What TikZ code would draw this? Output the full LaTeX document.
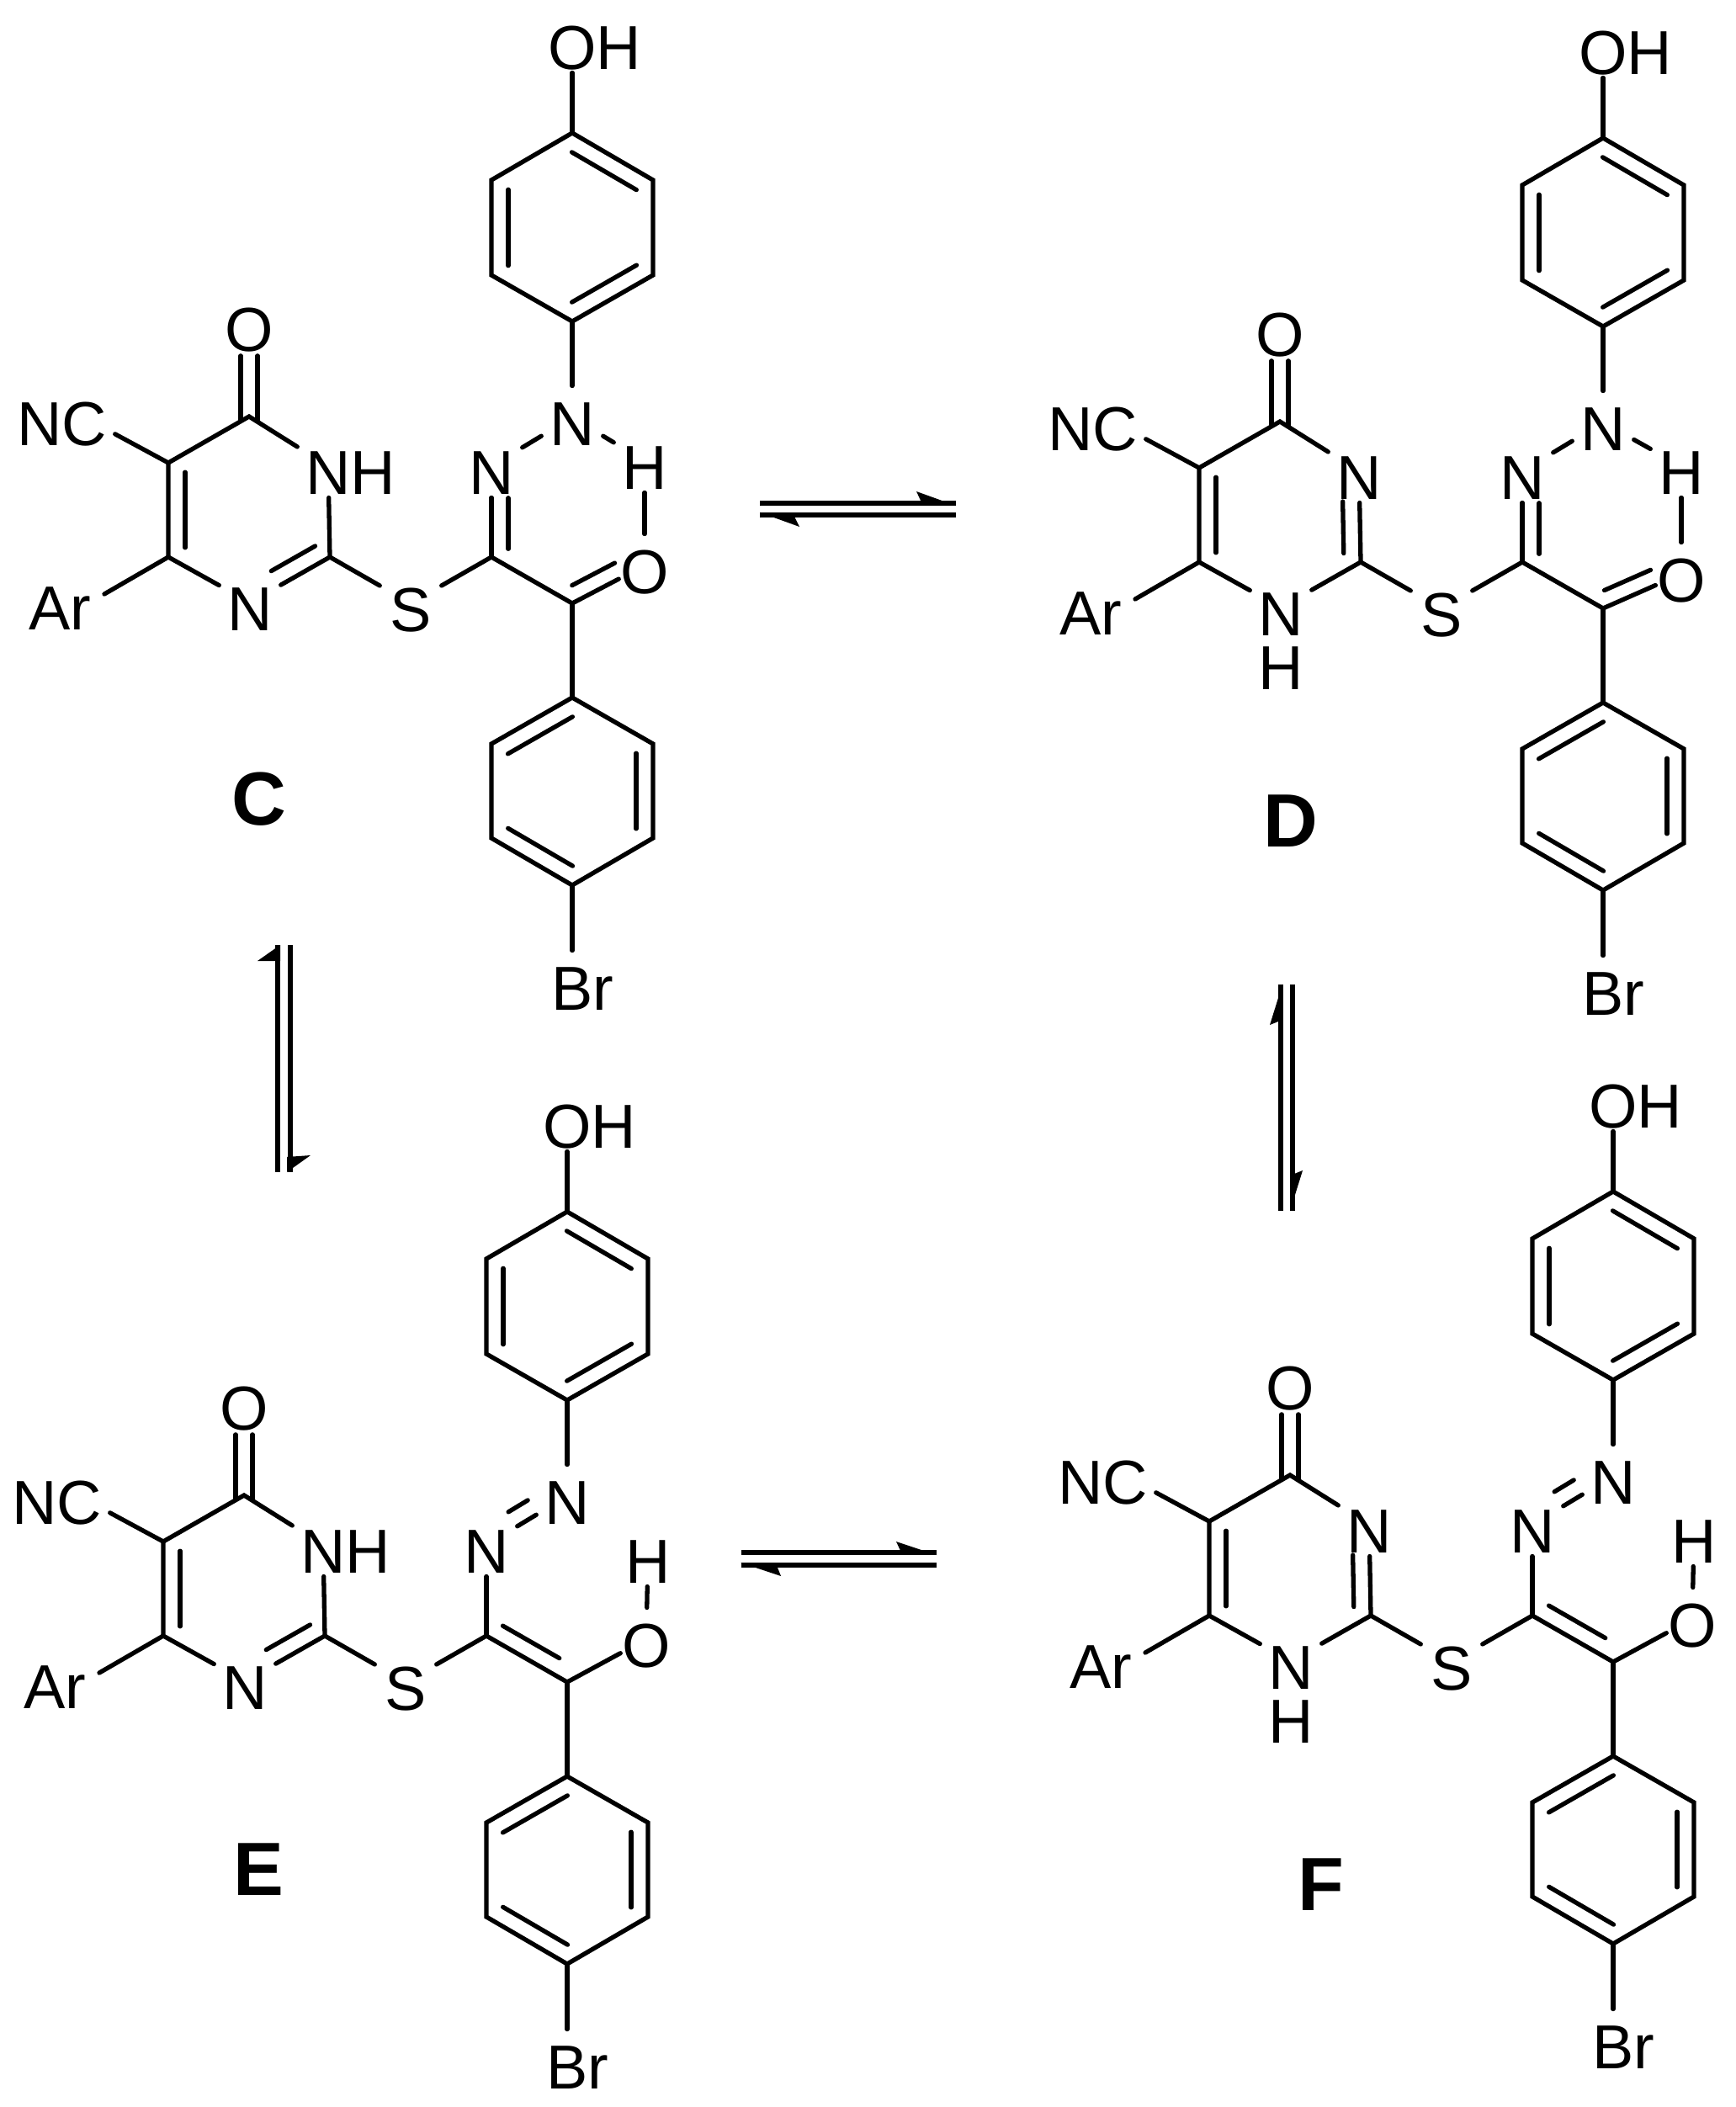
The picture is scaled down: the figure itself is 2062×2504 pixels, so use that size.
\documentclass[tikz,border=0pt]{standalone}
\usepackage{fontspec}
\setmainfont{Liberation Sans}
\usetikzlibrary{calc,positioning}

\tikzset{
  bond/.style={line width=.053cm, line cap=round},
  eqline/.style={line width=.055cm},
  atom/.style={inner sep=0pt, text height=.70cm, text depth=.035cm, minimum width=.72cm,
               font=\fontsize{21}{25}\selectfont},
  cpd/.style={inner sep=0pt, font=\fontsize{25.5}{30}\selectfont\bfseries}
}

% second line of a double bond
\newcommand{\sideline}[5]{
  \draw[bond] ($(#1)!#4!(#2)!#3!90:(#2)$) -- ($(#1)!#5!(#2)!#3!90:(#2)$);
}

\newcommand{\skeleton}[1]{
  \coordinate (t) at (0,0);
  \coordinate (c5) at (-96,55);
  \coordinate (c4) at (-96,167);
  \coordinate (c2) at (96,167);
  \coordinate (c7) at (288,167);
  \coordinate (k) at (384,222);
  \coordinate (arend) at (-172,211);
  \coordinate (p1) at (384,-113);
  \coordinate (p2) at (480,-168);
  \coordinate (p3) at (480,-281);
  \coordinate (p4) at (384,-337);
  \coordinate (p5) at (288,-281);
  \coordinate (p6) at (288,-168);
  \coordinate (q1) at (384,334);
  \coordinate (q2) at (288,389);
  \coordinate (q3) at (288,501);
  \coordinate (q4) at (384,557);
  \coordinate (q5) at (480,501);
  \coordinate (q6) at (480,389);
  \node[atom] (o4) at (0,-111) {O};
  \node[atom] (cn) at (-196,1) {\llap{N}C};
  \node[atom] (ar) at (-200,220) {\llap{A}r};
  \node[atom] (n1) at (94,59) {#1};
  \node[atom] (n3) at (1,221) {N};
  \node[atom] (s) at (192,222) {S};
  \node[atom] (n8) at (288,59) {N};
  \node[atom] (n9) at (384,1) {N};
  \node[atom] (oh) at (384,-446) {O\rlap{H}};
  \node[atom] (br) at (384,672) {B\rlap{r}};
  \draw[bond] (cn) -- (c5) -- (t) -- (n1);
  \draw[bond] (c5) -- (c4) -- (n3);
  \draw[bond] (c4) -- (arend);
  \draw[bond] (c2) -- (s) -- (c7);
  \draw[bond] (k) -- (q1);
  \draw[bond] (p1) -- (n9);
  \draw[bond] (p1) -- (p2) -- (p3) -- (p4) -- (p5) -- (p6) -- cycle;
  \draw[bond] (q1) -- (q2) -- (q3) -- (q4) -- (q5) -- (q6) -- cycle;
  \draw[bond] (p4) -- (oh);
  \draw[bond] (q4) -- (br);
  \sideline{c5}{c4}{.2cm}{.1}{.9}
  \sideline{p1}{p2}{.2cm}{.1}{.9}
  \sideline{p3}{p4}{.2cm}{.1}{.9}
  \sideline{p5}{p6}{.2cm}{.1}{.9}
  \sideline{q1}{q2}{.2cm}{.1}{.9}
  \sideline{q3}{q4}{.2cm}{.1}{.9}
  \sideline{q5}{q6}{.2cm}{.1}{.9}
  \sideline{t}{o4}{.1cm}{-.05}{.65}
  \sideline{t}{o4}{-.1cm}{-.05}{.65}
}

% NH next to the carbonyl
\newcommand{\lactam}{
  \draw[bond] (n1) -- (c2) -- (n3);
  \sideline{n3}{c2}{.2cm}{.37}{.92}
}
% NH between Ar and S
\newcommand{\lactim}{
  \draw[bond] (n1) -- (c2) -- (n3);
  \sideline{c2}{n1}{.2cm}{.1}{.67}
  \node[atom,text height=.52cm,text depth=0pt,below=.075cm of n3] (h3) {H};
}

\newcommand{\hydrazo}[2]{
  \node[atom] (h) at (#1,53) {H};
  \node[atom,minimum width=.6cm] (o) at (#1,#2) {O};
  \draw[bond] (c7) -- (n8);
  \sideline{c7}{n8}{-.2cm}{.09}{.65}
  \draw[bond] (n8) -- (n9);
  \draw[bond] (n9) -- (h);
  \draw[bond] (h) -- (o);
  \draw[bond] (c7) -- (k) -- (o);
  \sideline{k}{o}{.19cm}{.1}{.69}
}

\newcommand{\azoenol}{
  \node[atom] (h) at (480,71) {H};
  \node[atom,minimum width=.6cm] (o) at (478,171) {O};
  \draw[bond] (c7) -- (n8);
  \draw[bond] (n8) -- (n9);
  \sideline{n8}{n9}{.2cm}{.38}{.62}
  \draw[bond] (h) -- (o);
  \draw[bond] (c7) -- (k) -- (o);
  \sideline{c7}{k}{.2cm}{.1}{.8}
}

\begin{document}
\begin{tikzpicture}[x=.01cm,y=-.01cm]
  \useasboundingbox (0,0) rectangle (2062,2504);

  \begin{scope}[shift={(296,495)},name prefix=mc-]
    \skeleton{N\rlap{H}}
    \lactam
    \hydrazo{470}{177}
  \end{scope}
  \begin{scope}[shift={(1521,501)},name prefix=md-]
    \skeleton{N}
    \lactim
    \hydrazo{477}{181}
  \end{scope}
  \begin{scope}[shift={(290,1777)},name prefix=me-]
    \skeleton{N\rlap{H}}
    \lactam
    \azoenol
  \end{scope}
  \begin{scope}[shift={(1533,1753)},name prefix=mf-]
    \skeleton{N}
    \lactim
    \azoenol
  \end{scope}

  \node[cpd] (labC) at (308,950) {C};
  \node[cpd] (labD) at (1534,976) {D};
  \node[cpd] (labE) at (307,2222) {E};
  \node[cpd] (labF) at (1570,2240) {F};

  % C - D
  \coordinate (cdA) at (903,598);
  \coordinate (cdB) at (1136,598);
  \coordinate (cdC) at (903,612);
  \coordinate (cdD) at (1136,612);
  \draw[eqline] (cdA) -- (cdB);
  \draw[eqline] (cdC) -- (cdD);
  \fill (1136,601) -- (1089,584) -- (1095,597) -- cycle;
  \fill (903,609) -- (950,626) -- (944,614) -- cycle;

  % E - F
  \coordinate (efA) at (881,1845);
  \coordinate (efB) at (1113,1845);
  \coordinate (efC) at (881,1860);
  \coordinate (efD) at (1113,1860);
  \draw[eqline] (efA) -- (efB);
  \draw[eqline] (efC) -- (efD);
  \fill (1113,1848) -- (1065,1832) -- (1071,1845) -- cycle;
  \fill (880,1857) -- (928,1873) -- (922,1858) -- cycle;

  % C - E
  \coordinate (ceA) at (330,1123);
  \coordinate (ceB) at (330,1393);
  \coordinate (ceC) at (345,1123);
  \coordinate (ceD) at (345,1393);
  \draw[eqline] (ceA) -- (ceB);
  \draw[eqline] (ceC) -- (ceD);
  \fill (333,1123) -- (306,1142) -- (333,1142) -- cycle;
  \fill (341,1393) -- (369,1373) -- (341,1375) -- cycle;

  % D - F
  \coordinate (dfA) at (1522,1170);
  \coordinate (dfB) at (1522,1439);
  \coordinate (dfC) at (1536,1170);
  \coordinate (dfD) at (1536,1439);
  \draw[eqline] (dfA) -- (dfB);
  \draw[eqline] (dfC) -- (dfD);
  \fill (1524,1170) -- (1509,1218) -- (1524,1212) -- cycle;
  \fill (1533,1439) -- (1548,1391) -- (1533,1397) -- cycle;
\end{tikzpicture}
\end{document}
